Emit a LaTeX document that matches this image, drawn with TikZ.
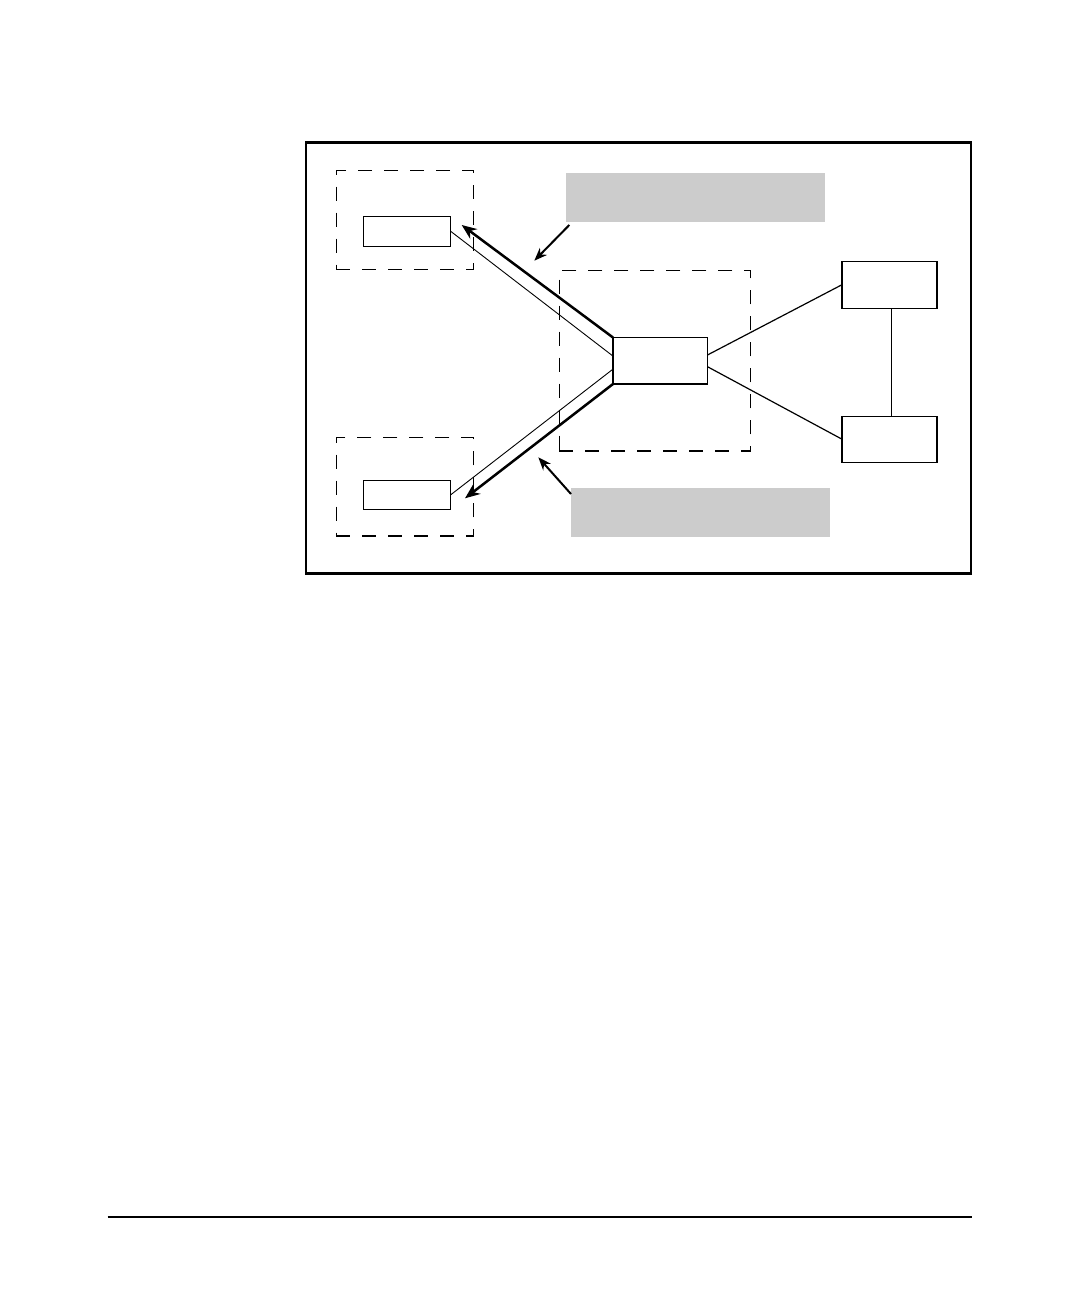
\documentclass[tikz,border=0pt]{standalone}
\usetikzlibrary{arrows.meta,calc}
\begin{document}
\begin{tikzpicture}[x=0.5pt,y=-0.5pt,
  sz/.style 2 args={minimum width=#1*0.5pt, minimum height=#2*0.5pt, inner sep=0pt, outer sep=0pt},
  box/.style={draw, line width=0.65pt, rectangle},
  dbox/.style={draw, line width=0.6pt, rectangle, dash pattern=on 7pt off 6pt},
  gbox/.style={fill={rgb,255:red,204;green,204;blue,204}, draw=none, rectangle},
  thin/.style={line width=0.45pt},
  conn/.style={line width=0.6pt},
  thick/.style={line width=1.25pt, -{Stealth[length=7.5pt,width=6pt]}},
  note/.style={line width=1pt, -{Stealth[length=6.5pt,width=5pt]}}]
\useasboundingbox (0,0) rectangle (1080,1296);
% frame
\node[draw, line width=1.2pt, rectangle, sz={665}{431}] (frame) at (638.5,358) {};
% dashed groups
\node[dbox, sz={137.4}{99}] (tld) at (405,219.8) {};
\node[dbox, sz={137.4}{98.3}] (bld) at (405,486.9) {};
\node[dbox, sz={191.4}{180.3}] (cd) at (655,360.85) {};
% boxes
\node[box, sz={87.4}{30}] (tl) at (407,231.3) {};
\node[box, sz={87.4}{29}] (bl) at (407,494.8) {};
\node[box, sz={94.5}{46.5}] (c) at (660.25,360.75) {};
\node[box, sz={95}{47}] (rt) at (889.5,284.7) {};
\node[box, sz={95}{46}] (rb) at (889.5,439.2) {};
% gray label boxes
\node[gbox, sz={259}{48.4}] (gt) at (695.5,197.5) {};
\node[gbox, sz={259}{48.4}] (gb) at (700.5,512.5) {};
% free ends
\coordinate (tipT) at (461.7,225);
\coordinate (tipB) at (465,498.3);
\coordinate (nT1) at (569.3,225);
\coordinate (nT2) at (534.3,260.7);
\coordinate (nB1) at (571,494);
\coordinate (nB2) at (538.3,457.3);
% connectors
\draw[thin] (tl.east) -- ($(c.north west)!0.40!(c.south west)$);
\draw[thin] (bl.east) -- ($(c.north west)!0.68!(c.south west)$);
\draw[thick] (c.north west) -- (tipT);
\draw[thick] (c.south west) -- (tipB);
\draw[conn] ($(c.north east)!0.376!(c.south east)$) -- (rt.west);
\draw[conn] ($(c.north east)!0.628!(c.south east)$) -- (rb.west);
\draw[conn] ($(rt.south)+(2,0)$) -- ($(rb.north)+(2,0)$);
\draw[note] (nT1) -- (nT2);
\draw[note] (nB1) -- (nB2);
% footer rule
\coordinate (fl) at (107.5,1217);
\coordinate (fr) at (972,1217);
\draw[line width=0.9pt] (fl) -- (fr);
\end{tikzpicture}
\end{document}
